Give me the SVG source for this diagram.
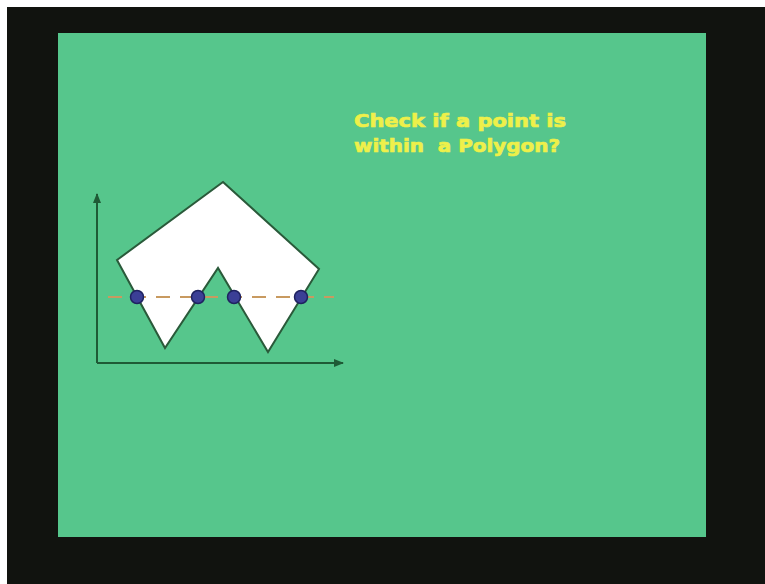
<svg xmlns="http://www.w3.org/2000/svg" width="765" height="584" viewBox="0 0 765 584">
<defs>
<style>
.axis{stroke:#1f5a36;stroke-width:2;fill:none}
.poly{fill:#ffffff;stroke:#2a5a3a;stroke-width:2;stroke-linejoin:miter}
.scan{stroke:#c89a60;stroke-width:2;stroke-dasharray:14,10;fill:none}
.pt{fill:#3b3f96;stroke:#1f2260;stroke-width:1.5}
.title{font-family:"DejaVu Sans",Verdana,sans-serif;font-weight:bold;font-size:18px;fill:#eef04a;stroke:#eef04a;stroke-width:0.7}
</style>
<marker id="arr" viewBox="0 0 10 10" refX="9" refY="5" markerWidth="5" markerHeight="5" orient="auto">
<path d="M0,1 L10,5 L0,9 z" fill="#1f5a36"/>
</marker>
</defs>
<rect x="0" y="0" width="765" height="584" fill="#ffffff"/>
<rect x="7" y="7" width="758" height="577" fill="#11130f"/>
<rect x="58" y="33" width="648" height="504" fill="#56c68c"/>
<text class="title" x="354" y="127" textLength="212" lengthAdjust="spacingAndGlyphs">Check if a point is</text>
<text class="title" x="354" y="152" textLength="206" lengthAdjust="spacingAndGlyphs" xml:space="preserve">within  a Polygon?</text>
<g id="connectors">
<line class="axis" x1="97" y1="363" x2="97" y2="194" marker-end="url(#arr)"/>
<line class="axis" x1="97" y1="363" x2="343" y2="363" marker-end="url(#arr)"/>
</g>
<g id="polygon">
<polygon class="poly" points="223,182 319,269 268,352 218,268 165,348 117,260"/>
</g>
<g id="scanline">
<line class="scan" x1="108" y1="297" x2="334" y2="297"/>
</g>
<g id="p1"><circle class="pt" cx="137" cy="297" r="6.5"/></g>
<g id="p2"><circle class="pt" cx="198" cy="297" r="6.5"/></g>
<g id="p3"><circle class="pt" cx="234" cy="297" r="6.5"/></g>
<g id="p4"><circle class="pt" cx="301" cy="297" r="6.5"/></g>
</svg>
